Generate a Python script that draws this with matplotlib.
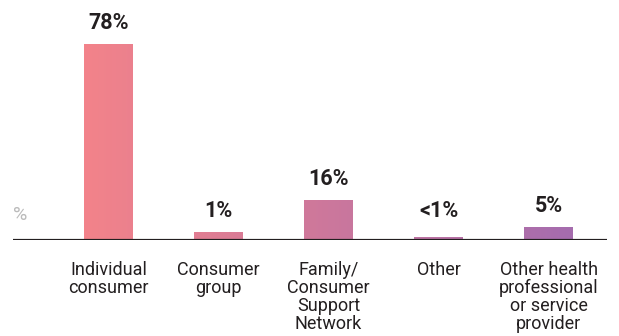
import numpy as np
import matplotlib
matplotlib.use("Agg")
import matplotlib.pyplot as plt
from matplotlib.colors import LinearSegmentedColormap

categories = ["Individual\nconsumer", "Consumer\ngroup", "Family/\nConsumer\nSupport\nNetwork",
              "Other", "Other health\nprofessional\nor service\nprovider"]
heights = [78, 3.2, 16, 1.2, 5.2]
value_labels = ["78%", "1%", "16%", "<1%", "5%"]

plt.rcParams['font.family'] = ['Roboto', 'DejaVu Sans']
dark = '#231F20'

W, H = 619, 336
fig = plt.figure(figsize=(W / 100, H / 100), dpi=100)
ax = fig.add_axes([13 / W, 96 / H, 594 / W, 240 / H])

x = np.arange(len(categories))
width = 0.445
xlim = (-0.868, 4.53)

cmap = LinearSegmentedColormap.from_list("pinkpurple", ["#F3838A", "#A56CAE"])
bars = ax.bar(x, heights, width, color='none', edgecolor='none', zorder=2)

# horizontal gradient across the whole chart, clipped to each bar
x0, x1 = x[0] - width / 2, x[-1] + width / 2
for b in bars:
    bx, bw, bh = b.get_x(), b.get_width(), b.get_height()
    t = np.linspace((bx - x0) / (x1 - x0), (bx + bw - x0) / (x1 - x0), 50)
    img = ax.imshow(t[np.newaxis, :], cmap=cmap, vmin=0, vmax=1, aspect='auto',
                    extent=(bx, bx + bw, 0, bh), zorder=2, interpolation='bilinear')
    img.set_clip_path(b)

ax.set_xlim(*xlim)
ax.set_ylim(0, 95.5)

ax.axhline(0, color=dark, lw=2.3, zorder=3)

label_floor = heights[1]
for xi, h, lab in zip(x, heights, value_labels):
    ax.annotate(lab, (xi, max(h, label_floor)), xytext=(0, 11), textcoords='offset points',
                ha='center', va='baseline', fontsize=15.5, fontweight='bold', color=dark)

for xi, cat in zip(x, categories):
    ax.annotate(cat, (xi, 0), xytext=(0, -15), textcoords='offset points',
                ha='center', va='top', fontsize=13, color=dark, linespacing=1.0)

ax.text(xlim[0], 10, "%", ha='left', va='center', fontsize=14, color='#BBBBBB')

for s in ax.spines.values():
    s.set_visible(False)
ax.set_xticks([])
ax.set_yticks([])
ax.patch.set_alpha(0)

fig.savefig("out.png", dpi=100)
